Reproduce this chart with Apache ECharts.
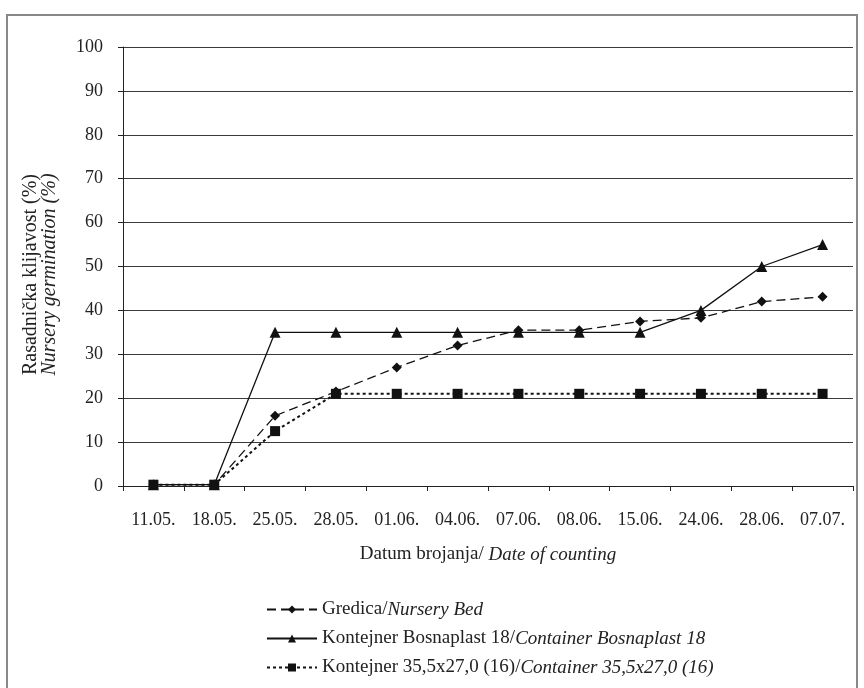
<!DOCTYPE html>
<html>
<head>
<meta charset="utf-8">
<script src="https://cdn.jsdelivr.net/npm/echarts@6/dist/echarts.min.js"></script>
<style>html,body{margin:0;padding:0;background:#fff}#c{width:864px;height:688px}</style>
</head>
<body>
<div id="c"></div>
<script>
var categories = ['11.05.', '18.05.', '25.05.', '28.05.', '01.06.', '04.06.', '07.06.', '08.06.', '15.06.', '24.06.', '28.06.', '07.07.'];
var gredica = [0.3, 0.3, 16, 21.5, 27, 32, 35.5, 35.5, 37.5, 38.3, 42, 43.1];
var bosnaplast = [0.3, 0.3, 35, 35, 35, 35, 35, 35, 35, 40, 50, 55];
var kontejner = [0.3, 0.3, 12.5, 21, 21, 21, 21, 21, 21, 21, 21, 21];
var yTicks = [0, 10, 20, 30, 40, 50, 60, 70, 80, 90, 100];

var FONT = 'Liberation Serif';
var chart = echarts.init(document.getElementById('c'));
chart.setOption({
  backgroundColor: '#fff',
  animation: false,
  textStyle: { fontFamily: FONT, color: '#222' },
  graphic: [{
    type: 'rect', shape: { x: 7, y: 15, width: 850, height: 720 },
    style: { fill: 'none', stroke: '#888', lineWidth: 2 }, silent: true
  }],
  grid: { left: 123, right: 11, top: 47, bottom: 202, containLabel: false },
  legend: {
    orient: 'vertical', left: 261, top: 595, itemGap: 10,
    itemWidth: 50, itemHeight: 10,
    textStyle: {
      fontFamily: FONT, fontSize: 19, color: '#222',
      rich: {
        n: { fontFamily: FONT, fontSize: 19, color: '#222' },
        i: { fontFamily: FONT, fontSize: 19, color: '#222', fontStyle: 'italic' }
      }
    },
    formatter: function (name) {
      var p = name.split('/');
      return '{n|' + p[0] + '/}{i|' + p[1] + '}';
    }
  },
  xAxis: {
    type: 'category', data: categories, boundaryGap: true,
    name: '{n|Datum brojanja/ }{i|Date of counting}',
    nameLocation: 'middle', nameGap: 59,
    nameTextStyle: {
      rich: {
        n: { fontFamily: FONT, fontSize: 19, color: '#222' },
        i: { fontFamily: FONT, fontSize: 19, color: '#222', fontStyle: 'italic' }
      }
    },
    axisLine: { lineStyle: { color: '#222', width: 1 } },
    axisTick: { show: true, length: 5, lineStyle: { color: '#222' } },
    axisLabel: { fontFamily: FONT, fontSize: 18, color: '#222', margin: 25 },
    splitLine: { show: false }
  },
  yAxis: {
    type: 'value', min: 0, max: 100, interval: 10,
    name: '{n|Rasadnička klijavost (%)}\n{i|Nursery germination (%)}',
    nameLocation: 'middle', nameGap: 64, nameRotate: 90,
    nameTextStyle: {
      padding: [0, 16, 0, 0],
      rich: {
        n: { fontFamily: FONT, fontSize: 20, color: '#222', lineHeight: 19 },
        i: { fontFamily: FONT, fontSize: 20, color: '#222', fontStyle: 'italic', lineHeight: 19 }
      }
    },
    axisLine: { show: true, lineStyle: { color: '#222', width: 1 } },
    axisTick: { show: true, length: 5, lineStyle: { color: '#222' } },
    axisLabel: { fontFamily: FONT, fontSize: 18, color: '#222', margin: 20,
      formatter: function (v) { return yTicks.indexOf(v) >= 0 ? String(v) : ''; } },
    splitLine: { show: true, lineStyle: { color: '#3a3a3a', width: 1 } }
  },
  series: [
    {
      name: 'Gredica/Nursery Bed', type: 'line', data: gredica,
      symbol: 'diamond', symbolSize: 10,
      itemStyle: { color: '#111' },
      lineStyle: { color: '#111', width: 1.3, type: [9, 5] }
    },
    {
      name: 'Kontejner Bosnaplast 18/Container Bosnaplast 18', type: 'line', data: bosnaplast,
      symbol: 'triangle', symbolSize: 11,
      itemStyle: { color: '#111' },
      lineStyle: { color: '#111', width: 1.3, type: 'solid' }
    },
    {
      name: 'Kontejner 35,5x27,0 (16)/Container 35,5x27,0 (16)', type: 'line', data: kontejner,
      symbol: 'rect', symbolSize: 10,
      itemStyle: { color: '#111' },
      lineStyle: { color: '#111', width: 2, type: [3, 3] }
    }
  ]
});
</script>
</body>
</html>
